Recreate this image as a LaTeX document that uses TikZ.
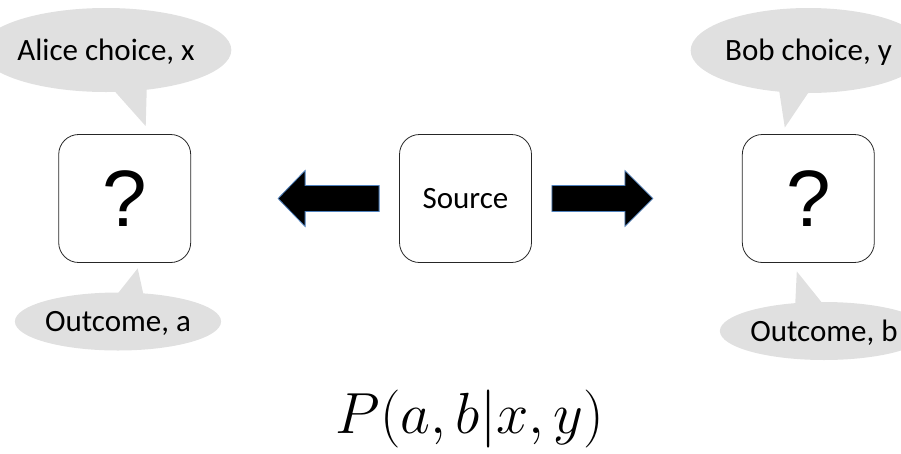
\RequirePackage{fix-cm}
\documentclass[tikz,border=0pt]{standalone}
\usepackage{fontspec}
\setmainfont{Carlito}
\newfontfamily\qmarkfont{Liberation Sans}
\usetikzlibrary{positioning, calc, shapes.geometric}
\definecolor{bubGrey}{HTML}{E0E0E0}
\definecolor{arrBlue}{HTML}{4F81BD}

\begin{document}
\begin{tikzpicture}[x=1pt, y=-1pt,
  font=\fontsize{31}{36}\selectfont,
  party/.style={draw=black!85, line width=0.8pt, rounded corners=20pt,
                minimum width=132pt, minimum height=128pt, inner sep=0pt},
  qmark/.style={party, font=\qmarkfont\fontsize{80}{80}\selectfont},
  bub/.style={ellipse, fill=bubGrey, inner sep=0pt, text height=20pt, text depth=0pt},
  tail/.style={fill=bubGrey},
  blockarr/.style={fill=black, draw=arrBlue, line width=0.8pt, line join=miter},
]
\useasboundingbox (0,0) rectangle (901,453);

% the three boxes
\node[party] (source) at (465.5,198.5) {Source};
\node[qmark, left=208pt of source] (alice) {?};
\node[qmark, right=210pt of source] (bob) {?};

% speech bubbles
\node[bub, minimum width=198pt, minimum height=84pt] (alicex) at (106,50) {Alice choice, x};
\node[bub, minimum width=187pt, minimum height=85pt] (boby) at (808.5,50.5) {Bob choice, y};
\node[bub, minimum width=172pt, minimum height=58pt] (outa) at (118,321.5) {Outcome, a};
\node[bub, minimum width=176pt, minimum height=58pt] (outb) at (824,331) {Outcome, b};

\fill[tail] ($(alicex.center)+(4,36)$) -- ($(alice.north)+(21,-8)$) -- ($(alicex.center)+(41,30)$) -- cycle;
\fill[tail] ($(boby.center)+(-30,36)$) -- ($(bob.north)+(-23.5,-6.5)$) -- ($(boby.center)+(4,36)$) -- cycle;
\fill[tail] ($(outa.center)+(-5,-22)$) -- ($(alice.south)+(13,5.5)$) -- ($(outa.center)+(27,-20)$) -- cycle;
\fill[tail] ($(outb.center)+(-29,-22)$) -- ($(bob.south)+(-11.5,8.5)$) -- ($(outb.center)+(3,-22)$) -- cycle;

% block arrows out of the source
\draw[blockarr] ($(source.west)+(-20,-13)$) -- ($(alice.east)+(114,-13)$)
  -- ($(alice.east)+(114,-28)$) -- ($(alice.east)+(87,0)$) -- ($(alice.east)+(114,28)$)
  -- ($(alice.east)+(114,13)$) -- ($(source.west)+(-20,13)$) -- cycle;
\draw[blockarr] ($(source.east)+(20,-13)$) -- ($(bob.west)+(-117,-13)$)
  -- ($(bob.west)+(-117,-28)$) -- ($(bob.west)+(-89,0)$) -- ($(bob.west)+(-117,28)$)
  -- ($(bob.west)+(-117,13)$) -- ($(source.east)+(20,13)$) -- cycle;

\node[font=\fontsize{58}{60}\selectfont] (prob) at (470,418.5) {$P(a,b|x,y)$};
\end{tikzpicture}
\end{document}
